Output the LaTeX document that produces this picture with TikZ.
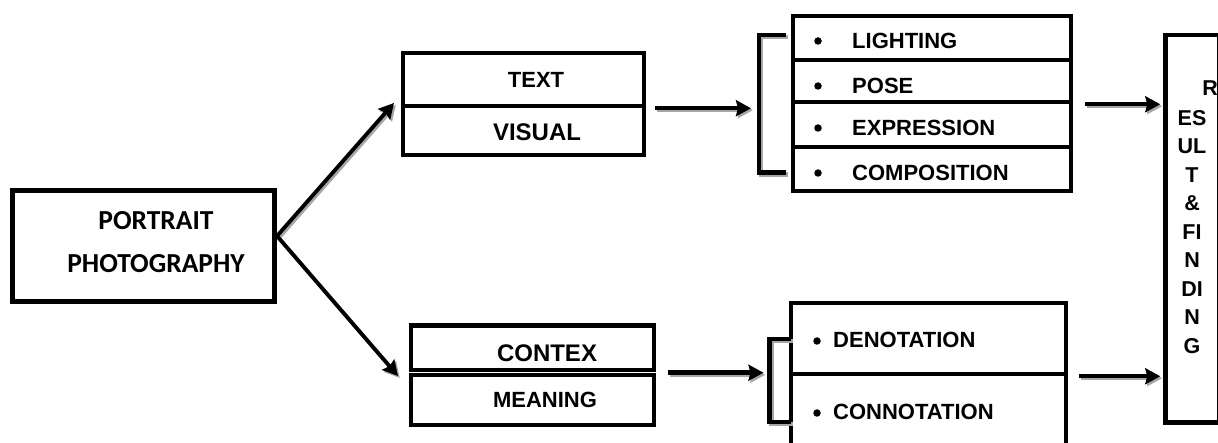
\documentclass[tikz,border=0pt]{standalone}
\usepackage{fontspec}
\setmainfont{Liberation Sans}
\newfontfamily\calfont{Carlito}
\usetikzlibrary{arrows.meta,calc}

\begin{document}
\begin{tikzpicture}[x=1pt,y=-1pt,
  box/.style={draw, rectangle, line width=4.5pt, inner sep=0pt},
  lbl/.style={inner sep=0pt, font=\fontsize{22}{26}\selectfont\bfseries},
  biglbl/.style={inner sep=0pt, font=\fontsize{24}{28}\selectfont\bfseries},
  reslbl/.style={inner sep=0pt, font=\fontsize{21.5}{24}\selectfont\bfseries},
  dot/.style={circle, fill, inner sep=0pt, minimum size=7.5pt},
  arr/.style={line width=4.5pt, -{Stealth[length=15pt,width=16pt,inset=2pt]}},
  thinarr/.style={arr, line width=3.8pt},
  brk/.style={line width=4.5pt, line join=miter},
]
\useasboundingbox (0,0) rectangle (1218,443);
\clip (0,0) rectangle (1218,443);

% source box
\node[box, line width=5pt, minimum width=262pt, minimum height=111pt] (portrait) at (143.5,246) {};
\node[inner sep=0pt, align=center, font=\calfont\fontsize{27.5}{43}\selectfont\bfseries] (ptxt) at (156,242.5) {PORTRAIT\\PHOTOGRAPHY};

% upper branch
\node[box, minimum width=241pt, minimum height=53pt] (tbox) at (523.5,79.5) {};
\node[box, minimum width=241pt, minimum height=49pt] (vbox) at (523.5,130.5) {};
\node[lbl] (ttxt) at (536,80) {TEXT};
\node[biglbl] (vtxt) at (537,132) {VISUAL};

% list of visual elements
\node[box, minimum width=278pt, minimum height=44pt] (r1) at (932,38) {};
\node[box, minimum width=278pt, minimum height=42pt] (r2) at (932,81) {};
\node[box, minimum width=278pt, minimum height=45pt] (r3) at (932,124.5) {};
\node[box, minimum width=278pt, minimum height=44pt] (r4) at (932,169) {};
\foreach \yy/\t [count=\i] in {41/LIGHTING,86/POSE,128/EXPRESSION,173/COMPOSITION}{
  \node[dot] (b\i) at (818,\yy) {};
  \node[lbl, anchor=west] (l\i) at (852,\yy) {\t};
}

% lower branch
\node[box, minimum width=243pt, minimum height=44.5pt] (ctx) at (532.5,348) {};
\node[box, minimum width=243pt, minimum height=50pt] (mean) at (532.5,400) {};
\node[biglbl] (ctxt) at (547,353) {CONTEX};
\node[lbl] (mtxt) at (545,400) {MEANING};

\node[box, minimum width=275pt, minimum height=71pt] (den) at (928.5,338.5) {};
\node[box, minimum width=275pt, minimum height=86pt] (con) at (928.5,417) {};
\node[dot] (bd) at (817,341) {};
\node[lbl, anchor=west] (dtxt) at (833,340) {DENOTATION};
\node[dot] (bc) at (817,413) {};
\node[lbl, anchor=west] (cntxt) at (833,412) {CONNOTATION};

% result column
\node[box, minimum width=53.5pt, minimum height=387.5pt] (res) at (1192.25,228.75) {};
\node[reslbl] (rr) at (1210,88) {R};
\foreach \t [count=\i] in {ES,UL,T,{\&},FI,N,DI,N,G}{
  \node[reslbl] (rl\i) at (1192,118+28.5*\i-28.5) {\t};
}

% anchor points of brackets and fork
\coordinate (brU) at (759,105);
\coordinate (brL) at (769.5,380);
\coordinate (fork) at (277,236);
\coordinate (upTip) at (394,103);
\coordinate (dnTip) at (398,376);

% soft grey shadows under brackets and arrows
\begin{scope}[transform canvas={shift={(1.8pt,-2pt)}}]
  \draw[brk, draw=black!35] (786,35) -- (759,35) -- (759,172.5) -- (786,172.5);
  \draw[brk, draw=black!35] (791,339) -- (769.5,339) -- (769.5,422) -- (791,422);
  \draw[thinarr, draw=black!35] (fork) -- (upTip);
  \draw[thinarr, draw=black!35] (fork) -- (dnTip);
  \draw[arr, draw=black!35] ([xshift=9pt]tbox.south east) -- ([xshift=-8pt]tbox.south east -| brU);
  \draw[arr, draw=black!35] ([xshift=12pt]r2.south east) -- ([xshift=-3pt]r2.south east -| res.west);
  \draw[arr, draw=black!35] ([xshift=12pt]mean.north east) -- ([xshift=-6pt]mean.north east -| brL);
  \draw[arr, draw=black!35] ([xshift=11pt]den.south east) -- ([xshift=-3pt]den.south east -| res.west);
\end{scope}

% brackets
\draw[brk] (786,35) -- (759,35) -- (759,172.5) -- (786,172.5);
\draw[brk] (791,339) -- (769.5,339) -- (769.5,422) -- (791,422);

% connectors
\draw[thinarr] (fork) -- (upTip);
\draw[thinarr] (fork) -- (dnTip);
\draw[arr] ([xshift=9pt]tbox.south east) -- ([xshift=-8pt]tbox.south east -| brU);
\draw[arr] ([xshift=12pt]r2.south east) -- ([xshift=-3pt]r2.south east -| res.west);
\draw[arr] ([xshift=12pt]mean.north east) -- ([xshift=-6pt]mean.north east -| brL);
\draw[arr] ([xshift=11pt]den.south east) -- ([xshift=-3pt]den.south east -| res.west);
\end{tikzpicture}
\end{document}
